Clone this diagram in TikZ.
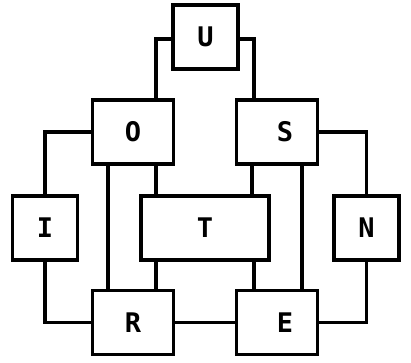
\documentclass[tikz,border=0pt]{standalone}
\usepackage{fontspec}
\setmonofont{DejaVu Sans Mono}
\usetikzlibrary{positioning,calc}

\begin{document}
\begin{tikzpicture}[
  x=1pt, y=-1pt,
  box/.style={rectangle, draw=black, line width=3.2pt, minimum width=81pt, minimum height=64pt, inner sep=0pt, font=\ttfamily\bfseries\fontsize{27}{27}\selectfont},
  wide/.style={box, minimum width=128pt},
  narrow/.style={box, minimum width=65pt},
  wire/.style={line width=3.2pt, line cap=rect}
]
  \useasboundingbox (0,0) rectangle (411,362);

  % top
  \node[narrow] (U) at (205.5, 37) {U};

  % second row
  \node[box] (O) at (133, 132) {O\hspace{20pt}};
  \node[box] (S) at (277, 132) {\hspace{16pt}S};

  % middle row
  \node[narrow] (I) at (45, 228) {I};
  \node[wide] (T) at (205, 228) {T};
  \node[narrow] (N) at (366.5, 228) {N};

  % bottom row
  \node[box] (R) at (133, 322.5) {R\hspace{20pt}};
  \node[box] (E) at (277, 322.5) {\hspace{16pt}E};

  % U to O and S
  \draw[wire] ([yshift=-2pt]U.west) -| ([xshift=23pt]O.north);
  \draw[wire] ([yshift=-2pt]U.east) -| ([xshift=-23pt]S.north);

  % O and S to the side boxes
  \draw[wire] (O.west) -| (I.north);
  \draw[wire] (S.east) -| (N.north);

  % long verticals
  \draw[wire] ([xshift=-25pt]O.south) -- ([xshift=-25pt]R.north);
  \draw[wire] ([xshift=25pt]S.south) -- ([xshift=25pt]E.north);

  % through T
  \draw[wire] ([xshift=23pt]O.south) -- ([xshift=23pt]O.south |- T.north);
  \draw[wire] ([xshift=-25pt]S.south) -- ([xshift=-25pt]S.south |- T.north);
  \draw[wire] ([xshift=23pt]R.north) -- ([xshift=23pt]R.north |- T.south);
  \draw[wire] ([xshift=-23pt]E.north) -- ([xshift=-23pt]E.north |- T.south);

  % bottom connections
  \draw[wire] (I.south) |- (R.west);
  \draw[wire] (R.east) -- (E.west);
  \draw[wire] (E.east) -| (N.south);
\end{tikzpicture}
\end{document}
